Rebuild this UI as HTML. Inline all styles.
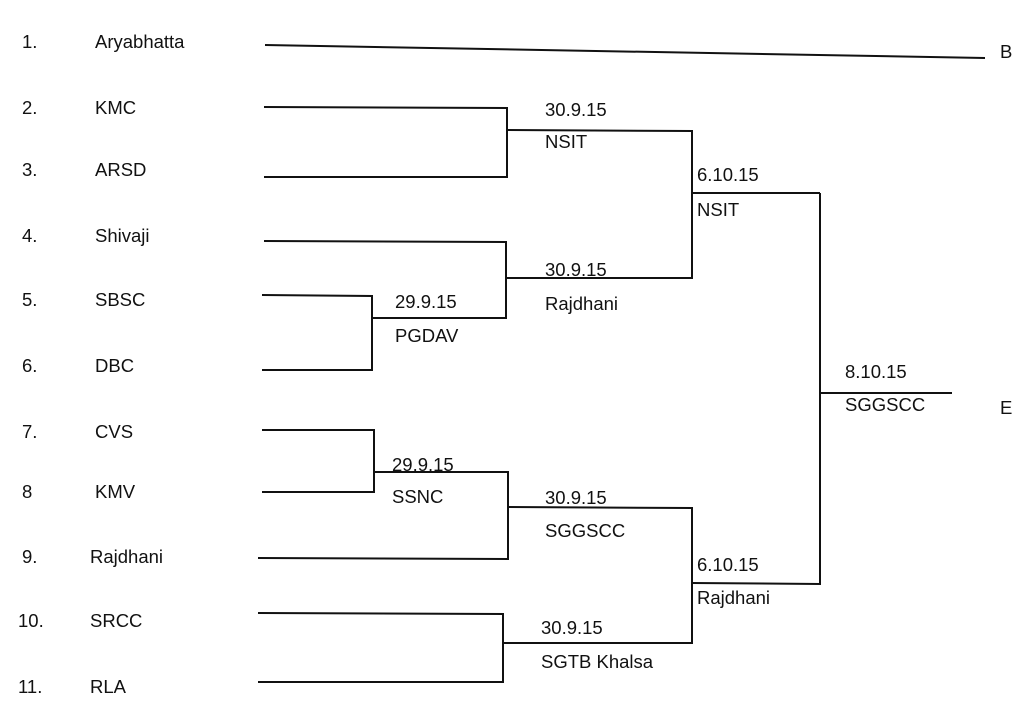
<!DOCTYPE html>
<html><head><meta charset="utf-8"><style>
body{margin:0;width:1024px;height:716px;background:#fff;position:relative;overflow:hidden;font-family:"Liberation Sans",sans-serif;color:#111}
.t{position:absolute;font-size:18.5px;line-height:20px;white-space:nowrap;transform:translateY(-10px)}
svg{position:absolute;left:0;top:0}
</style></head><body>
<svg width="1024" height="716" fill="none" stroke="#111" stroke-width="2">
<line x1="265" y1="45" x2="985" y2="58"/>
<polyline points="264,107 507,108 507,177 264,177"/>
<polyline points="507,130 692,131 692,278 506,278"/>
<polyline points="264,241 506,242 506,318 372,318"/>
<polyline points="262,295 372,296 372,370 262,370"/>
<line x1="692" y1="193" x2="820" y2="193"/>
<polyline points="262,430 374,430 374,492 262,492"/>
<polyline points="374,472 508,472 508,559 258,558"/>
<polyline points="508,507 692,508 692,643 503,643"/>
<polyline points="258,613 503,614 503,682 258,682"/>
<polyline points="692,583 820,584 820,193"/>
<line x1="820" y1="393" x2="952" y2="393"/>
</svg>
<div class="t" style="left:22px;top:42px">1.</div><div class="t" style="left:95px;top:42px">Aryabhatta</div>
<div class="t" style="left:22px;top:108px">2.</div><div class="t" style="left:95px;top:108px">KMC</div>
<div class="t" style="left:22px;top:170px">3.</div><div class="t" style="left:95px;top:170px">ARSD</div>
<div class="t" style="left:22px;top:236px">4.</div><div class="t" style="left:95px;top:236px">Shivaji</div>
<div class="t" style="left:22px;top:300px">5.</div><div class="t" style="left:95px;top:300px">SBSC</div>
<div class="t" style="left:22px;top:366px">6.</div><div class="t" style="left:95px;top:366px">DBC</div>
<div class="t" style="left:22px;top:432px">7.</div><div class="t" style="left:95px;top:432px">CVS</div>
<div class="t" style="left:22px;top:492px">8</div><div class="t" style="left:95px;top:492px">KMV</div>
<div class="t" style="left:22px;top:557px">9.</div><div class="t" style="left:90px;top:557px">Rajdhani</div>
<div class="t" style="left:18px;top:621px">10.</div><div class="t" style="left:90px;top:621px">SRCC</div>
<div class="t" style="left:18px;top:687px">11.</div><div class="t" style="left:90px;top:687px">RLA</div>
<div class="t" style="left:1000px;top:52px">B</div>
<div class="t" style="left:1000px;top:408px">E</div>
<div class="t" style="left:545px;top:110px">30.9.15</div><div class="t" style="left:545px;top:142px">NSIT</div>
<div class="t" style="left:697px;top:175px">6.10.15</div><div class="t" style="left:697px;top:210px">NSIT</div>
<div class="t" style="left:545px;top:270px">30.9.15</div><div class="t" style="left:545px;top:304px">Rajdhani</div>
<div class="t" style="left:395px;top:302px">29.9.15</div><div class="t" style="left:395px;top:336px">PGDAV</div>
<div class="t" style="left:392px;top:465px">29.9.15</div><div class="t" style="left:392px;top:497px">SSNC</div>
<div class="t" style="left:545px;top:498px">30.9.15</div><div class="t" style="left:545px;top:531px">SGGSCC</div>
<div class="t" style="left:697px;top:565px">6.10.15</div><div class="t" style="left:697px;top:598px">Rajdhani</div>
<div class="t" style="left:541px;top:628px">30.9.15</div><div class="t" style="left:541px;top:662px">SGTB Khalsa</div>
<div class="t" style="left:845px;top:372px">8.10.15</div><div class="t" style="left:845px;top:405px">SGGSCC</div>
</body></html>
